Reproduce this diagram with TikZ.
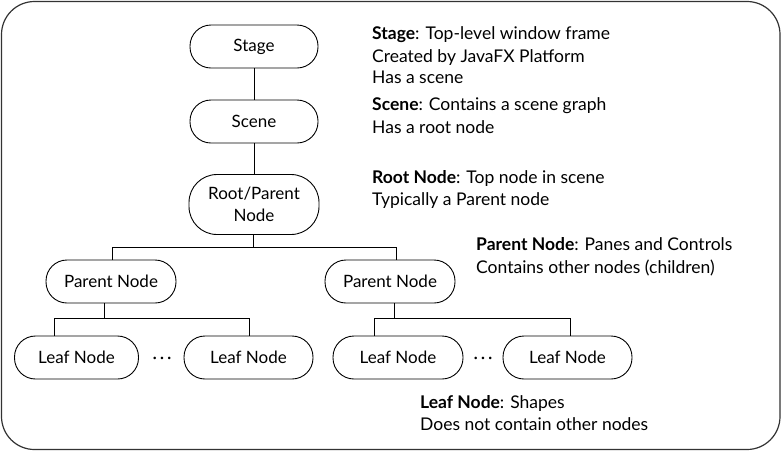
\documentclass[tikz,border=0pt]{standalone}
\usepackage{fontspec}
\setmainfont{Lato}
\begin{document}
\begin{tikzpicture}[x=1pt,y=-1pt,
  box/.style={draw=black, line width=0.9pt, rounded corners=21pt, minimum height=43pt, inner sep=0pt, font=\fontsize{17}{22}\selectfont, align=center},
  conn/.style={draw=black, line width=0.8pt},
  desc/.style={anchor=base west, inner sep=0pt, font=\fontsize{17.5}{22}\selectfont}]
\useasboundingbox (0,0) rectangle (782,451);
\draw[line width=1.2pt, black!80, rounded corners=33pt] (1.5,1.5) rectangle (780,449.5);
% nodes
\node[box, minimum width=128pt] (stage) at (254,46.5) {Stage};
\node[box, minimum width=128pt] (scene) at (254,121.5) {Scene};
\node[box, minimum width=130pt, minimum height=60pt, rounded corners=28pt] (root) at (254,204.5) {Root/Parent\\Node};
\node[box, minimum width=130pt] (pl) at (111,281.5) {Parent Node};
\node[box, minimum width=130pt] (pr) at (390,281.5) {Parent Node};
\node[box, minimum width=124pt] (l1) at (76.5,357.5) {Leaf Node};
\node[box, minimum width=129pt] (l2) at (248.5,357.5) {Leaf Node};
\node[box, minimum width=130pt] (l3) at (398,357.5) {Leaf Node};
\node[box, minimum width=129pt] (l4) at (567.5,357.5) {Leaf Node};
\node[inner sep=0pt, anchor=base, font=\fontsize{17}{22}\selectfont] (d1) at (162,363) {·\,·\,·};
\node[inner sep=0pt, anchor=base, font=\fontsize{17}{22}\selectfont] (d2) at (483,363) {·\,·\,·};
% connectors
\coordinate (j1) at (253,247);
\coordinate (j2) at (104,318.5);
\coordinate (j3) at (394,318.5);
\draw[conn] (stage) -- (scene);
\draw[conn] (scene) -- (root);
\draw[conn] ([xshift=-1pt]root.south) -- (j1);
\draw[conn] (j1) -| ([xshift=1pt]pl.north);
\draw[conn] (j1) -| ([xshift=6pt]pr.north);
\draw[conn] ([xshift=-7pt]pl.south) -- (j2);
\draw[conn] (j2) -| ([xshift=-22.5pt]l1.north);
\draw[conn] (j2) -| ([xshift=0.5pt]l2.north);
\draw[conn] ([xshift=4pt]pr.south) -- (j3);
\draw[conn] (j3) -| ([xshift=-24pt]l3.north);
\draw[conn] (j3) -| ([xshift=2.5pt]l4.north);
% descriptions
\node[desc] (t1) at (372,39) {\textbf{Stage}: Top-level window frame};
\node[desc] (t2) at (372,62) {Created by JavaFX Platform};
\node[desc] (t3) at (372,83) {Has a scene};
\node[desc] (t4) at (372,110) {\textbf{Scene}: Contains a scene graph};
\node[desc] (t5) at (372,133) {Has a root node};
\node[desc] (t6) at (372,183) {\textbf{Root Node}: Top node in scene};
\node[desc] (t7) at (372,205) {Typically a Parent node};
\node[desc] (t8) at (476,250) {\textbf{Parent Node}: Panes and Controls};
\node[desc] (t9) at (476,273) {Contains other nodes (children)};
\node[desc] (t10) at (420,408) {\textbf{Leaf Node}: Shapes};
\node[desc] (t11) at (420,430) {Does not contain other nodes};
\end{tikzpicture}
\end{document}
